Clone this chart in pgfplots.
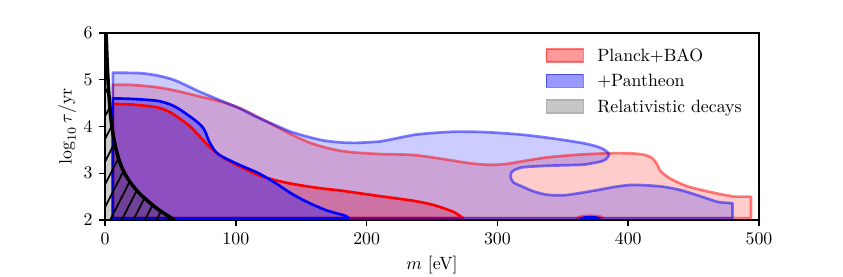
\documentclass[border=0pt]{standalone}
\usepackage{pgfplots}
\usepackage{pgfplotstable}
\pgfplotsset{compat=1.18}
\usetikzlibrary{patterns.meta}
\pgfplotstableread{
m y
6 4.89
20 4.89
39.6 4.84
55 4.76
72.7 4.64
90 4.52
103.4 4.39
121.2 4.14
141.7 3.84
155 3.67
167.2 3.56
180 3.48
192.7 3.44
210.6 3.41
236.1 3.39
261.6 3.29
280 3.21
294.8 3.18
307 3.2
317.8 3.25
338.2 3.34
363.7 3.40
389.2 3.43
405 3.42
413 3.39
418 3.33
421.5 3.22
425 3.04
432.6 2.88
445.4 2.72
465.8 2.58
481.1 2.5
}\redouter
\pgfplotstableread{
m y
6 4.48
20 4.47
39.6 4.41
50 4.3
58 4.15
65.1 4.0
72.7 3.78
80.4 3.55
90.6 3.33
103.4 3.14
116.2 2.97
128.9 2.86
141.7 2.78
154.4 2.72
167 2.67
180 2.63
200 2.55
218 2.48
236.1 2.41
250 2.33
258 2.26
266.7 2.17
271.8 2.08
273.8 2.04
}\redinner
\pgfplotstableread{
m y
6 5.15
26.8 5.14
40 5.09
52.3 5.0
62 4.88
72.7 4.74
90.6 4.53
103.4 4.38
116.2 4.2
130 4.03
141.7 3.89
155 3.78
167.2 3.70
180 3.66
192.7 3.65
210.6 3.68
218 3.72
236.1 3.82
250 3.86
269.3 3.89
290 3.88
312.6 3.84
330 3.79
350.9 3.71
366 3.64
376.4 3.57
382 3.5
385.4 3.4
383 3.3
379 3.25
370 3.2
363.7 3.18
338.2 3.16
325 3.14
317.8 3.12
312.5 3.06
310.5 3.0
310.3 2.9
312.5 2.8
317.8 2.73
328 2.61
338.2 2.54
350.9 2.53
363.7 2.58
376.4 2.64
390 2.71
402 2.75
415 2.74
427.5 2.71
440 2.64
453 2.53
468.3 2.39
479.8 2.36
}\blueouter
\pgfplotstableread{
m y
6 4.6
20 4.59
39.6 4.55
50 4.47
57.4 4.36
67.6 4.16
72 4.06
75.3 3.96
77.5 3.83
79.1 3.71
82.9 3.52
86 3.42
90.6 3.34
103.4 3.17
116 3.02
123.8 2.9
132 2.76
141.7 2.58
152 2.42
162.1 2.29
170 2.2
177.4 2.14
183 2.1
185.1 2.07
186.3 2.04
}\blueinner
\pgfplotstableread{
m y
361 2.04
363 2.07
367 2.085
371 2.09
376 2.085
379 2.07
381 2.04
}\redisland
\pgfplotstableread{
m y
364 2.04
367 2.06
371 2.065
375 2.06
378 2.04
}\blueisland
\pgfplotstableread{
m y
0 2
0 6
0.8 6
1.2 5.7
1.6 5.4
2.1 5.1
2.6 4.85
3.3 4.55
4.2 4.25
5.5 3.95
7 3.7
9 3.45
11.5 3.22
15 3.0
20 2.78
26 2.58
33 2.4
40 2.24
47 2.11
53 2.0
}\relfill
\pgfplotstableread{
m y
0.8 6
1.2 5.7
1.6 5.4
2.1 5.1
2.6 4.85
3.3 4.55
4.2 4.25
5.5 3.95
7 3.7
9 3.45
11.5 3.22
15 3.0
20 2.78
26 2.58
33 2.4
40 2.24
47 2.11
53 2.0
}\relline
\begin{document}
\begin{tikzpicture}
\begin{axis}[
  scale only axis, width=367.4pt, height=105.1pt,
  xmin=0, xmax=500, ymin=2, ymax=6,
  xtick={0,100,200,300,400,500}, ytick={2,3,4,5,6},
  tick align=outside, xtick pos=left, ytick pos=left,
  major tick length=3.5pt,
  every tick/.style={black, line width=0.8pt},
  axis line style={line width=0.8pt},
  xlabel={$m$ [eV]}, ylabel={$\log_{10}\tau/\mathrm{yr}$},
  xlabel style={at={(axis description cs:0.5,-0.24)}, anchor=center},
  ylabel style={at={(axis description cs:-0.058,0.5)}, anchor=center},
  legend style={draw=none, fill=none, at={(axis description cs:0.673,0.92)}, anchor=north west,
    inner sep=0pt, row sep=5.9pt, column sep=7.3pt,
    nodes={inner sep=0pt, text height=6.8pt, text depth=0pt}},
  legend cell align=left,
  legend image code/.code={\draw[#1] (0pt,-3.65pt) rectangle (20.8pt,3.65pt);},
  contour/.style={smooth, tension=0.45, line join=round, forget plot},
]
\addlegendimage{fill=red, fill opacity=0.4, draw=red, draw opacity=0.5, line width=1pt}
\addlegendentry{Planck+BAO}
\addlegendimage{fill=blue, fill opacity=0.4, draw=blue, draw opacity=0.5, line width=1pt}
\addlegendentry{+Pantheon}
\addlegendimage{fill=black!22, draw=black!30, line width=1pt}
\addlegendentry{Relativistic decays}

% ---- fills ----
\addplot[contour, draw=none, fill=red, fill opacity=0.2] table {\redouter}
  -- (axis cs:493.9,2.5) -- (axis cs:493.9,2.04) -- (axis cs:6,2.04) -- cycle;
\addplot[contour, draw=none, fill=red, fill opacity=0.3] table {\redinner}
  -- (axis cs:6,2.04) -- cycle;
\addplot[contour, draw=none, fill=red, fill opacity=0.3] table {\redisland} -- cycle;
\addplot[contour, draw=none, fill=blue, fill opacity=0.2] table {\blueouter}
  -- (axis cs:479.8,2.04) -- (axis cs:6,2.04) -- cycle;
\addplot[contour, draw=none, fill=blue, fill opacity=0.3] table {\blueinner}
  -- (axis cs:6,2.04) -- cycle;
\addplot[contour, draw=none, fill=blue, fill opacity=0.3] table {\blueisland} -- cycle;

% ---- lines ----
\addplot[contour, red, draw opacity=0.5, line width=1.5pt] table {\redouter}
  -- (axis cs:493.9,2.5) -- (axis cs:493.9,2.04) -- (axis cs:6,2.04) -- cycle;
\addplot[contour, red, draw opacity=0.5, line width=1.5pt] table {\redisland} -- cycle;
\addplot[contour, red, line width=1.5pt] table {\redinner}
  -- (axis cs:6,2.04) -- cycle;
\addplot[contour, blue, draw opacity=0.5, line width=1.5pt] table {\blueouter}
  -- (axis cs:479.8,2.04) -- (axis cs:6,2.04) -- cycle;
\addplot[contour, blue, line width=1.5pt] table {\blueinner}
  -- (axis cs:6,2.04) -- cycle;
\addplot[contour, blue, line width=1.2pt] table {\blueisland} -- cycle;

% ---- relativistic decays ----
\addplot[forget plot, draw=none, fill=black, fill opacity=0.2] table {\relfill} -- cycle;
\addplot[forget plot, draw=none, pattern={Lines[angle=63,distance=5.8pt,line width=1pt]}, pattern color=black] table {\relfill} -- cycle;
\addplot[forget plot, smooth, tension=0.5, black, line width=2pt] table {\relline};
\end{axis}
\pgfresetboundingbox
\path ([shift={(-59pt,-32pt)}]current axis.south west) rectangle ([shift={(47.2pt,18.5pt)}]current axis.north east);
\end{tikzpicture}
\end{document}
